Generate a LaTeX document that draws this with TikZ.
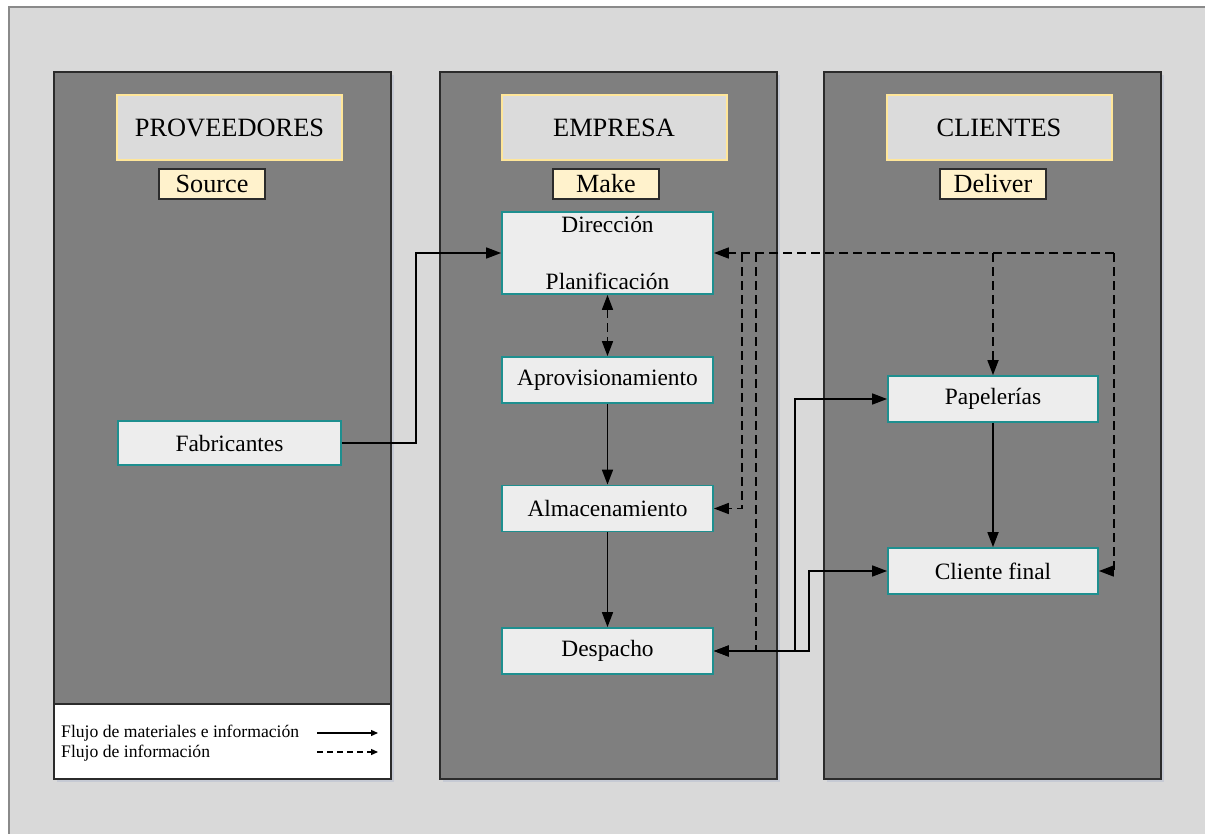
\documentclass[tikz,border=0pt]{standalone}
\usepackage{fontspec}
\setmainfont{Liberation Serif}
\usetikzlibrary{arrows.meta}

\definecolor{pagebg}{HTML}{D9D9D9}
\definecolor{pageedge}{HTML}{8A8A8A}
\definecolor{colfill}{HTML}{7F7F7F}
\definecolor{coledge}{HTML}{2B2B2B}
\definecolor{colshade}{HTML}{C6CAD4}
\definecolor{hdrfill}{HTML}{DBDBDB}
\definecolor{hdredge}{HTML}{FFE699}
\definecolor{tagfill}{HTML}{FFF2CC}
\definecolor{boxfill}{HTML}{EDEDED}
\definecolor{boxedge}{HTML}{1E8F8F}

\tikzset{
  hdr/.style={draw=hdredge, line width=2bp, fill=hdrfill, minimum width=225bp,
    minimum height=65bp, inner sep=0pt, font=\fontsize{26.5}{31}\selectfont},
  tagbox/.style={draw=coledge, line width=1.2bp, fill=tagfill, minimum width=106bp,
    minimum height=30bp, inner sep=0pt, font=\fontsize{26.3}{31}\selectfont},
  proc/.style={draw=boxedge, line width=1.8bp, fill=boxfill, minimum width=211bp,
    minimum height=46bp, inner sep=0pt, font=\fontsize{23.5}{28}\selectfont, align=center},
  colpanel/.style={fill=colfill, draw=coledge, line width=1.3bp},
  tipbig/.tip={Triangle[length=15bp,width=11bp]},
  tipsmall/.tip={Triangle[length=7bp,width=6bp]},
  mat/.style={draw=black, line width=1.7bp, -tipbig},
  matboth/.style={draw=black, line width=1.7bp, tipbig-tipbig},
  info/.style={draw=black, line width=1.7bp, dash pattern=on 9bp off 5bp, -tipbig},
  infoline/.style={draw=black, line width=1.7bp, dash pattern=on 9bp off 5bp},
  legtext/.style={anchor=base west, inner sep=0pt, font=\fontsize{17.7}{21}\selectfont},
}

\begin{document}
\begin{tikzpicture}[x=1bp, y=-1bp]
\useasboundingbox (0,0) rectangle (1205,834);

% page background
\fill[pagebg] (9,7) rectangle (1220,850);
\draw[pageedge, line width=1.5bp] (1220,7) -- (9,7) -- (9,850);

% column panels with soft shadows
\foreach \xa in {54,440,824}{
  \fill[colshade] (\xa+3,75) rectangle (\xa+340,782);
  \path[colpanel] (\xa,72) rectangle (\xa+337,779);
}

% legend panel
\path[fill=white, draw=coledge, line width=1.3bp] (54,704) rectangle (391,779);
\node[legtext] (lg1) at (61,737) {Flujo de materiales e información};
\node[legtext] (lg2) at (61,757) {Flujo de información};
\coordinate (l1a) at (317,733);
\coordinate (l1b) at (378,733);
\coordinate (l2a) at (317,752);
\coordinate (l2b) at (378,752);
\draw[line width=1.3bp, -tipsmall] (l1a) -- (l1b);
\draw[line width=1.3bp, dash pattern=on 6bp off 4bp, -tipsmall] (l2a) -- (l2b);

% headers
\node[hdr] (hP) at (229.5,127.5) {PROVEEDORES};
\node[hdr] (hE) at (614,127.5) {EMPRESA};
\node[hdr] (hC) at (999,127.5) {CLIENTES};

\node[tagbox] (tS) at (212,184) {Source};
\node[tagbox] (tM) at (606,184) {Make};
\node[tagbox] (tD) at (993,184) {Deliver};

% process boxes
\node[proc, minimum width=223bp, minimum height=44bp] (fab) at (229.5,443) {Fabricantes};
\node[proc, minimum height=82bp] (dir) at (607.5,253) {Dirección\\[30bp]Planificación};
\node[proc] (apr) at (607.5,380) {Aprovisionamiento};
\node[proc] (alm) at (607.5,508.5) {Almacenamiento};
\node[proc] (des) at (607.5,651) {Despacho};
\node[proc, minimum width=210bp] (pap) at (993,399) {Papelerías};
\node[proc, minimum width=210bp] (cf) at (993,571) {Cliente final};

% material and information flows
\draw[mat] (fab.east) -- ++(74,0) |- (dir.west);
\draw[infoline, tipbig-tipbig] (dir.south) -- (apr.north);
\draw[mat] (apr.south) -- (alm.north);
\draw[mat] (alm.south) -- (des.north);
\draw[mat] (pap.south) -- (cf.north);

\draw[matboth] (des.east) -- ++(81,0) |- (pap.west);
\draw[matboth] (des.east) -- ++(95,0) |- (cf.west);

% information network
\coordinate (iR) at (1114,253);
\coordinate (iA) at (742,253);
\coordinate (iB) at (756,253);
\draw[info] (iR) -- (dir.east);
\draw[info] (iR) |- (cf.east);
\draw[info] (pap.north |- iR) -- (pap.north);
\draw[info] (iA) |- (alm.east);
\draw[infoline] (iB) -- (iB |- des.east);
\end{tikzpicture}
\end{document}
